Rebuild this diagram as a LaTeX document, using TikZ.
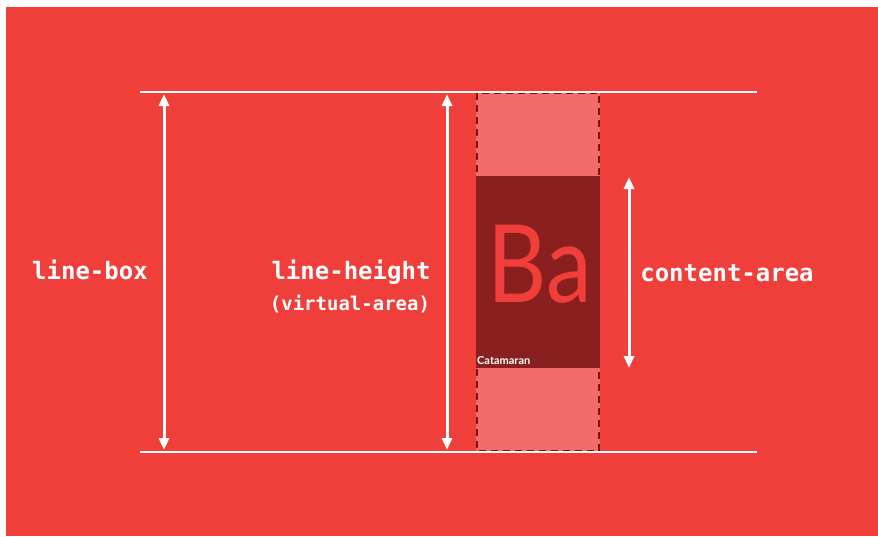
\documentclass[tikz,border=0pt]{standalone}
\usepackage{fontspec}
\setmonofont{DejaVu Sans Mono}
\newfontfamily\glyphfont{Lato}
\usetikzlibrary{arrows.meta}
\definecolor{bgred}{RGB}{240,62,58}
\definecolor{virtred}{RGB}{243,108,105}
\definecolor{contred}{RGB}{138,31,31}
\definecolor{dashred}{RGB}{120,20,20}
\tikzset{
	dimarrow/.style={white,line width=3pt,
		{Triangle[width=10pt,length=12pt]}-{Triangle[width=10pt,length=12pt]}},
	rule/.style={white,line width=2pt},
	tag/.style={white,anchor=base,font=\ttfamily\bfseries\fontsize{24}{28}\selectfont},
	subtag/.style={white,anchor=base,font=\ttfamily\bfseries\fontsize{19}{22}\selectfont}
}
\begin{document}
\begin{tikzpicture}[x=1pt,y=-1pt]
				\useasboundingbox (0,0) rectangle (878,536);
				\fill[white] (0,0) rectangle (878,536);
				\fill[bgred] (6,7) rectangle (878,536);
				\fill[virtred] (476,92) rectangle (600,452);
				\draw[dashred,line width=2pt,dash pattern=on 7pt off 5pt] (477,93) rectangle (599,451);
				\fill[contred] (476,176) rectangle (600,368);
				\node[anchor=base,text=bgred,xscale=.85,inner sep=0pt] (ba) at (540,302)
					{\glyphfont\fontsize{108}{110}\selectfont Ba};
				\node[anchor=base west,white,inner sep=0pt] (fontname) at (477,364)
					{\glyphfont\bfseries\fontsize{11}{12}\selectfont Catamaran};
				\coordinate (topL) at (140,92);
				\coordinate (topR) at (757,92);
				\coordinate (botL) at (140,452);
				\coordinate (botR) at (757,452);
				\draw[rule] (topL) -- (topR);
				\draw[rule] (botL) -- (botR);
				\coordinate (boxtop) at (164,94);
				\coordinate (boxbot) at (164,450);
				\coordinate (heighttop) at (447,94);
				\coordinate (heightbot) at (447,450);
				\coordinate (areatop) at (629,177);
				\coordinate (areabot) at (629,368);
				\draw[dimarrow] (boxtop) -- (boxbot);
				\draw[dimarrow] (heighttop) -- (heightbot);
				\draw[dimarrow] (areatop) -- (areabot);
				\node[tag] (linebox) at (90,279) {line-box};
				\node[tag] (lineheight) at (351,279) {line-height};
				\node[subtag] (virtual) at (350,310) {(virtual-area)};
				\node[tag] (content) at (727,281) {content-area};
			\end{tikzpicture}
\end{document}
